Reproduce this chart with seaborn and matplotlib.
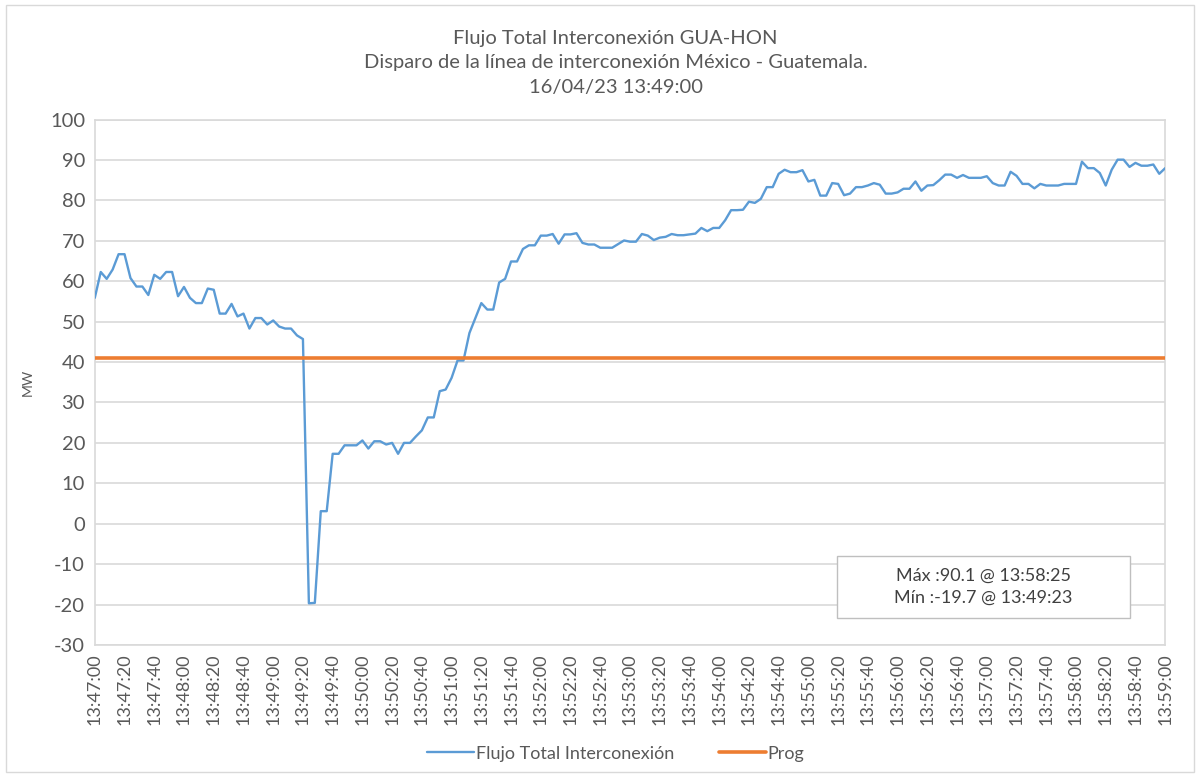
import pandas as pd
import matplotlib.pyplot as plt
import matplotlib.dates as mdates
from matplotlib.patches import Rectangle
import seaborn as sns

# datos: una muestra cada 4 s desde 13:47:00 hasta 13:59:00
inicio = "2023-04-16 13:47:00"
paso = "4s"
flujo = [
    55.9, 62.3, 60.6, 62.9, 66.7, 66.7, 60.8, 58.7, 58.7, 56.6,
    61.6, 60.6, 62.3, 62.3, 56.3, 58.6, 55.9, 54.6, 54.6, 58.2,
    57.9, 52.0, 52.0, 54.4, 51.3, 52.0, 48.3, 50.9, 50.9, 49.3,
    50.3, 48.8, 48.3, 48.3, 46.6, 45.7, -19.7, -19.6, 3.1, 3.1,
    17.3, 17.3, 19.4, 19.4, 19.4, 20.6, 18.6, 20.4, 20.4, 19.6,
    20.0, 17.3, 20.0, 20.0, 21.6, 23.1, 26.3, 26.3, 32.8, 33.2,
    36.1, 40.4, 40.4, 47.2, 50.9, 54.6, 53.0, 53.0, 59.7, 60.6,
    64.9, 64.9, 68.0, 68.9, 68.9, 71.3, 71.3, 71.7, 69.3, 71.6,
    71.6, 71.9, 69.5, 69.1, 69.1, 68.3, 68.3, 68.3, 69.2, 70.1,
    69.8, 69.8, 71.7, 71.3, 70.2, 70.8, 71.0, 71.7, 71.4, 71.4,
    71.6, 71.8, 73.2, 72.4, 73.2, 73.2, 75.1, 77.6, 77.6, 77.7,
    79.7, 79.4, 80.4, 83.3, 83.3, 86.6, 87.6, 87.0, 87.0, 87.5,
    84.7, 85.1, 81.2, 81.2, 84.3, 84.1, 81.3, 81.7, 83.3, 83.3,
    83.7, 84.3, 83.9, 81.7, 81.7, 82.0, 82.9, 82.9, 84.7, 82.4,
    83.7, 83.8, 85.0, 86.4, 86.4, 85.6, 86.3, 85.6, 85.6, 85.6,
    86.0, 84.3, 83.7, 83.7, 87.1, 86.1, 84.1, 84.1, 83.0, 84.1,
    83.7, 83.7, 83.7, 84.1, 84.1, 84.1, 89.6, 88.0, 88.0, 86.8,
    83.7, 87.6, 90.1, 90.1, 88.3, 89.3, 88.6, 88.6, 88.9, 86.6,
    88.0,
]
prog = 41.0
titulo = ["Flujo Total Interconexión GUA-HON",
          "Disparo de la línea de interconexión México - Guatemala.",
          "16/04/23 13:49:00"]
texto_caja = "Máx :90.1 @ 13:58:25\nMín :-19.7 @ 13:49:23"

tiempo = pd.date_range(inicio, periods=len(flujo), freq=paso)
df = pd.DataFrame({"Hora": tiempo,
                   "Flujo Total Interconexión": flujo,
                   "Prog": [prog] * len(flujo)})

sns.set_style("white")
plt.rcParams['font.family'] = ['Lato', 'DejaVu Sans']
plt.rcParams['axes.unicode_minus'] = False

fig = plt.figure(figsize=(12, 7.77), dpi=100)
ax = fig.add_axes([0.079, 0.170, 0.892, 0.676])

azul = '#5B9BD5'
naranja = '#ED7D31'
gris = '#595959'

sns.lineplot(data=df, x="Hora", y="Flujo Total Interconexión", ax=ax,
             color=azul, linewidth=1.7, label="Flujo Total Interconexión", zorder=3)
sns.lineplot(data=df, x="Hora", y="Prog", ax=ax,
             color=naranja, linewidth=2.6, label="Prog", zorder=4)

ax.set_xlim(tiempo[0], tiempo[-1])
ax.set_ylim(-30, 100)
ax.set_yticks(range(-30, 101, 10))
ax.xaxis.set_major_locator(mdates.SecondLocator(bysecond=[0, 20, 40]))
ax.xaxis.set_major_formatter(mdates.DateFormatter('%H:%M:%S'))
ax.tick_params(axis='x', labelrotation=90, labelsize=13, colors=gris, length=0, pad=6)
ax.tick_params(axis='y', labelsize=14.5, colors=gris, length=0, pad=7)
ax.grid(axis='y', color='#D9D9D9', linewidth=1.2)
ax.grid(axis='x', visible=False)
for s in ax.spines.values():
    s.set_color('#D9D9D9')
    s.set_linewidth(1.2)

ax.set_xlabel("")
ax.set_ylabel("MW", fontsize=10, color=gris, labelpad=12)

fig.text(0.513, 0.962, "\n".join(titulo), ha='center', va='top',
         fontsize=14.5, color=gris, linespacing=1.55)

# caja de máximos y mínimos
ax.add_patch(Rectangle((0.693, 0.051), 0.274, 0.119, transform=ax.transAxes,
                       facecolor='white', edgecolor='#BFBFBF', linewidth=1, zorder=5))
ax.text(0.83, 0.111, texto_caja, transform=ax.transAxes, ha='center', va='center',
        fontsize=13, color='#404040', linespacing=1.5, zorder=6)

ax.get_legend().remove()
handles, labels = ax.get_legend_handles_labels()
fig.legend(handles, labels, loc='center', bbox_to_anchor=(0.513, 0.03), ncol=2,
           frameon=False, fontsize=13, handlelength=2.6, handletextpad=0.1,
           columnspacing=2.5, labelcolor=gris)

fig.patches.append(Rectangle((0.005, 0.006), 0.99, 0.988, transform=fig.transFigure,
                             fill=False, edgecolor='#D9D9D9', linewidth=1))

plt.savefig('out.png', dpi=100)
